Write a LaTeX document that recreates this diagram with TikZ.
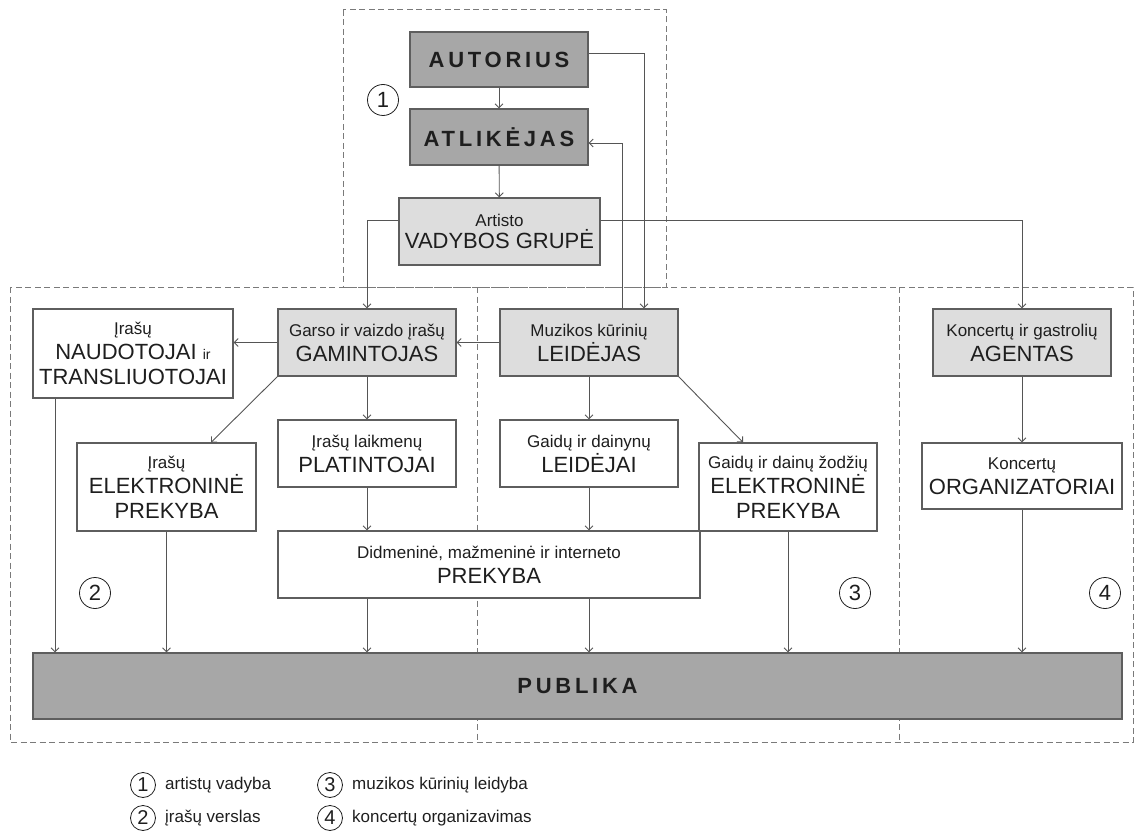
\documentclass[tikz,border=0pt]{standalone}
\usepackage{fontspec}
\setmainfont{Liberation Sans}
\usetikzlibrary{arrows.meta}
\definecolor{darkfill}{HTML}{A7A7A7}
\definecolor{lightfill}{HTML}{DDDDDD}
\definecolor{edge}{HTML}{5E5E5E}
\definecolor{wire}{HTML}{555555}
\definecolor{dash}{HTML}{7A7A7A}
\definecolor{ink}{HTML}{1E1E1E}
\newcommand\bigtxt{\fontsize{22}{25}\selectfont}
\newcommand\smalltxt{\fontsize{17}{19}\selectfont}
\newcommand\tinytxt{\fontsize{14}{16}\selectfont}
\newcommand\spacedlabel[1]{{\fontsize{22}{25}\selectfont\bfseries\addfontfeature{LetterSpace=17}#1}}
\begin{document}
\begin{tikzpicture}[x=1pt,y=-1pt,
  box/.style={draw=edge,line width=1.2pt,align=center,inner sep=0pt,text=ink,font=\bigtxt},
  darkbox/.style={box,fill=darkfill},
  lightbox/.style={box,fill=lightfill},
  whitebox/.style={box,fill=white},
  arr/.style={draw=wire,line width=0.9pt,-{Straight Barb[length=4pt,width=8pt]}},
  region/.style={draw=dash,line width=1pt,dash pattern=on 6pt off 3.5pt},
  numcirc/.style={circle,draw=ink,line width=0.8pt,minimum size=31pt,inner sep=0pt,font=\fontsize{22}{22}\selectfont,text=ink},
  legcirc/.style={circle,draw=ink,line width=0.8pt,minimum size=25pt,inner sep=0pt,font=\fontsize{20}{20}\selectfont,text=ink},
  legtxt/.style={anchor=west,inner sep=0pt,font=\smalltxt,text=ink}
]
\useasboundingbox (0,0) rectangle (1136,840);

% dashed regions
\draw[region] (343,10) rectangle (666,287);
\draw[region] (10,287) rectangle (1133,742);
\draw[region] (477,287) -- (477,742);
\draw[region] (899,287) -- (899,742);

% nodes
\node[darkbox,minimum width=178pt,minimum height=55pt] (aut) at (499,59.5) {\spacedlabel{AUTORIUS}};
\node[darkbox,minimum width=178pt,minimum height=56pt] (atl) at (499,137) {\spacedlabel{ATLIKĖJAS}};
\node[lightbox,minimum width=201pt,minimum height=67pt] (vad) at (499.5,231.5) {{\smalltxt Artisto}\\[-3pt]VADYBOS GRUPĖ};

\node[whitebox,minimum width=200pt,minimum height=89pt] (nau) at (133,353.5) {{\smalltxt Įrašų}\\NAUDOTOJAI {\tinytxt ir}\\TRANSLIUOTOJAI};
\node[lightbox,minimum width=178pt,minimum height=67pt] (gam) at (367,342.5) {{\smalltxt Garso ir vaizdo įrašų}\\GAMINTOJAS};
\node[lightbox,minimum width=178pt,minimum height=67pt] (lei) at (589,342.5) {{\smalltxt Muzikos kūrinių}\\LEIDĖJAS};
\node[lightbox,minimum width=178pt,minimum height=67pt] (age) at (1022,342.5) {{\smalltxt Koncertų ir gastrolių}\\AGENTAS};

\node[whitebox,minimum width=179pt,minimum height=88pt] (ele1) at (166.5,487) {{\smalltxt Įrašų}\\ELEKTRONINĖ\\PREKYBA};
\node[whitebox,minimum width=178pt,minimum height=67pt] (pla) at (367,453.5) {{\smalltxt Įrašų laikmenų}\\PLATINTOJAI};
\node[whitebox,minimum width=178pt,minimum height=67pt] (glei) at (589,453.5) {{\smalltxt Gaidų ir dainynų}\\LEIDĖJAI};
\node[whitebox,minimum width=178pt,minimum height=88pt] (ele2) at (788,487) {{\smalltxt Gaidų ir dainų žodžių}\\ELEKTRONINĖ\\PREKYBA};
\node[whitebox,minimum width=200pt,minimum height=66pt] (org) at (1022,476) {{\smalltxt Koncertų}\\ORGANIZATORIAI};

\node[whitebox,minimum width=422pt,minimum height=67pt] (prek) at (489,564.5) {{\smalltxt Didmeninė, mažmeninė ir interneto}\\PREKYBA};
\node[darkbox,minimum width=1089pt,minimum height=66pt] (pub) at (577.5,686) {\spacedlabel{PUBLIKA}};

% region numbers
\node[numcirc] (c1) at (383,100) {1};
\node[numcirc] (c2) at (95,593) {2};
\node[numcirc] (c3) at (855,593) {3};
\node[numcirc] (c4) at (1105,593) {4};

% connectors
\draw[arr] (aut) -- (atl);
\draw[arr] (atl) -- (vad);
\draw[arr] ([yshift=6.5pt]aut.east) -| ([xshift=55pt]lei.north);
\draw[arr] ([xshift=33pt]lei.north) |- ([yshift=-6pt]atl.east);
\draw[arr] ([yshift=11.5pt]vad.west) -| (gam.north);
\draw[arr] ([yshift=11.5pt]vad.east) -| (age.north);
\draw[arr] (lei.west) -- (gam.east);
\draw[arr] (gam.west) -- (gam.west -| nau.east);
\draw[arr] (gam.south west) -- ([xshift=44.5pt]ele1.north);
\draw[arr] (gam.south) -- (pla.north);
\draw[arr] (lei.south) -- (glei.north);
\draw[arr] (lei.south east) -- ([xshift=-45pt]ele2.north);
\draw[arr] (age.south) -- (org.north);
\draw[arr] (pla.south) -- (pla.south |- prek.north);
\draw[arr] (glei.south) -- (glei.south |- prek.north);
\draw[arr] ([xshift=-78pt]nau.south) -- ([xshift=-78pt]nau.south |- pub.north);
\draw[arr] (ele1.south) -- (ele1.south |- pub.north);
\draw[arr] (pla.south |- prek.south) -- (pla.south |- pub.north);
\draw[arr] (glei.south |- prek.south) -- (glei.south |- pub.north);
\draw[arr] (ele2.south) -- (ele2.south |- pub.north);
\draw[arr] (org.south) -- (org.south |- pub.north);

% legend
\node[legcirc] (l1) at (143,785) {1};
\node[legcirc] (l2) at (143,818) {2};
\node[legcirc] (l3) at (330,785) {3};
\node[legcirc] (l4) at (330,818) {4};
\node[legtxt] (t1) at (165,785) {artistų vadyba};
\node[legtxt] (t2) at (165,818) {įrašų verslas};
\node[legtxt] (t3) at (352,785) {muzikos kūrinių leidyba};
\node[legtxt] (t4) at (352,818) {koncertų organizavimas};
\end{tikzpicture}
\end{document}
